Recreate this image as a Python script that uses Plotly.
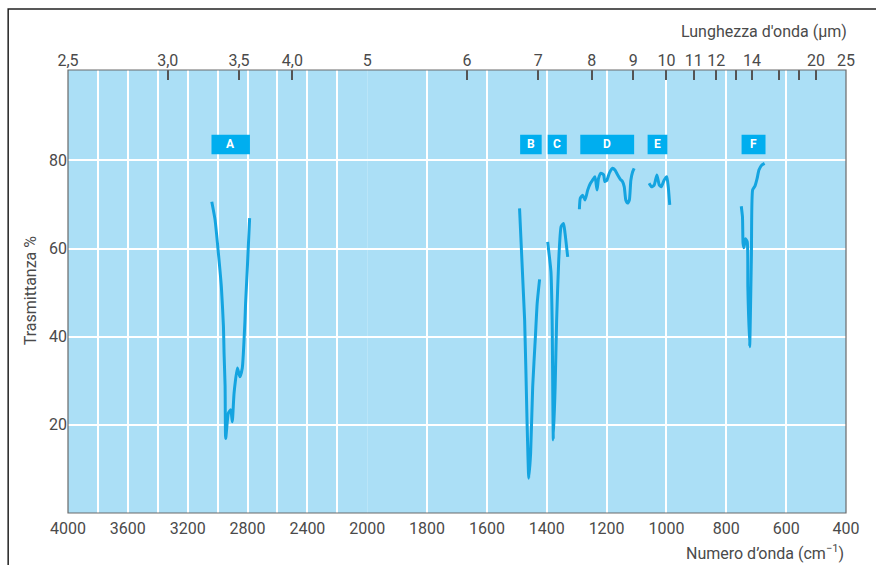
import plotly.graph_objects as go

# Infrared spectrum: transmittance (%) against wavenumber (cm^-1),
# with the scale halved above 2000 cm^-1 and a wavelength scale (µm) on top.

# Band A (C-H stretch region), drawn on the 4000-2000 cm^-1 panel
wn_A = [3039, 3017, 2995, 2975, 2961, 2957, 2950, 2946, 2928, 2912, 2902,
        2890, 2868, 2851, 2835, 2817, 2813, 2802, 2786]
T_A = [70.6, 66.5, 59.0, 51.3, 42.3, 36.3, 28.7, 16.9, 22.7, 23.4, 20.7,
       27.2, 32.9, 30.9, 32.9, 43.8, 47.6, 55.1, 66.9]

# Bands B-F, drawn on the 2000-400 cm^-1 panel
wn_B = [1491, 1474, 1466, 1460, 1454, 1447, 1438, 1432, 1424]
T_B = [69.1, 43.8, 21.1, 7.9, 13.5, 28.7, 40.0, 47.6, 53.0]

wn_C = [1397, 1386, 1382, 1378, 1372, 1367, 1360, 1352, 1344, 1339, 1330]
T_C = [61.5, 54.7, 43.8, 16.6, 28.7, 43.8, 57.4, 65.0, 65.7, 63.5, 58.1]

wn_D = [1291, 1288, 1280, 1272, 1263, 1254, 1247, 1239, 1232, 1227, 1219,
        1210, 1206, 1199, 1191, 1180, 1172, 1163, 1154, 1147, 1141, 1136,
        1130, 1124, 1119, 1113, 1108]
T_D = [68.9, 71.4, 72.1, 71.0, 73.3, 74.8, 75.5, 76.3, 73.3, 75.9, 77.1,
       76.7, 75.2, 75.5, 77.1, 78.2, 77.8, 76.7, 75.7, 75.2, 74.0, 71.0,
       70.3, 71.0, 75.5, 77.4, 78.2]

wn_E = [1058, 1050, 1041, 1032, 1024, 1017, 1008, 999, 994, 989]
T_E = [74.8, 74.0, 74.4, 76.7, 74.4, 74.0, 75.5, 76.3, 74.0, 69.9]

wn_F = [750, 746, 744, 741, 736, 730, 728, 722, 719, 716, 712, 704, 697,
        691, 682, 672]
T_F = [69.6, 67.2, 61.2, 60.2, 62.2, 61.5, 51.3, 37.7, 46.8, 58.9, 73.3,
       74.2, 75.9, 77.8, 78.9, 79.3]

# Band regions marked by labelled boxes: (label, start cm^-1, end cm^-1)
band_regions = [("A", 3041, 2784), ("B", 1489, 1417), ("C", 1397, 1333),
                ("D", 1288, 1108), ("E", 1063, 997), ("F", 749, 669)]

# Axis ticks
wn_ticks_high = [4000, 3800, 3600, 3400, 3200, 3000, 2800, 2600, 2400, 2200, 2000]
wn_ticks_low = [1800, 1600, 1400, 1200, 1000, 800, 600, 400]
wl_ticks_high = [2.5, 3.0, 3.5, 4.0, 5]
wl_text_high = ["2,5", "3,0", "3,5", "4,0", "5"]
wl_ticks_low = [6, 7, 8, 9, 10, 11, 12, 13, 14, 16, 18, 20, 25]
wl_text_low = ["6", "7", "8", "9", "10", "11", "12", "", "14", "", "", "20", "25"]
T_ticks = [20, 40, 60, 80]

FONT = "Roboto, Liberation Sans Narrow, sans-serif"
TXT = "#4a4a4a"
BG = "#abdff6"
LINE = "#14a4e0"
BOX = "#00aeef"

split = 300.0 / 780.0  # fraction of width for the 4000-2000 panel

fig = go.Figure()

line_style = dict(color=LINE, width=3, shape="spline", smoothing=0.5)
fig.add_trace(go.Scatter(x=wn_A, y=T_A, mode="lines", line=line_style,
                         xaxis="x", yaxis="y", showlegend=False, hoverinfo="skip"))
for wn, T in [(wn_B, T_B), (wn_C, T_C), (wn_D, T_D), (wn_E, T_E), (wn_F, T_F)]:
    fig.add_trace(go.Scatter(x=wn, y=T, mode="lines", line=line_style,
                             xaxis="x2", yaxis="y", showlegend=False,
                             hoverinfo="skip"))
# empty traces so the wavelength (top) axes get their own subplots
for ax in ("x3", "x4"):
    fig.add_trace(go.Scatter(x=[None], y=[None], mode="lines", xaxis=ax,
                             yaxis="y", showlegend=False, hoverinfo="skip"))

shapes = []
annotations = []
for label, x0, x1 in band_regions:
    xr = "x" if x0 > 2000 else "x2"
    shapes.append(dict(type="rect", xref=xr, yref="y", x0=x0, x1=x1,
                       y0=81.4, y1=85.8, fillcolor=BOX, line=dict(width=0),
                       layer="above"))
    annotations.append(dict(xref=xr, yref="y", x=(x0 + x1) / 2, y=83.6,
                            text="<b>%s</b>" % label, showarrow=False,
                            font=dict(family=FONT, size=12, color="white")))

# plot border
shapes.append(dict(type="rect", xref="paper", yref="paper", x0=0, x1=1,
                   y0=0, y1=1, line=dict(color="#6a6a6a", width=1.2),
                   layer="above"))
# outer page frame
shapes.append(dict(type="rect", xref="paper", yref="paper", x0=-0.0769,
                   x1=1.2, y0=-0.3, y1=1.1377,
                   line=dict(color="#222222", width=1.5), layer="above"))

annotations += [
    dict(xref="paper", yref="paper", x=-0.0487, y=0.503, xanchor="center",
         yanchor="middle", text="Trasmittanza %",
         textangle=-90, showarrow=False,
         font=dict(family=FONT, size=16, color=TXT)),
    dict(xref="paper", yref="paper", x=1.004, y=1.086, xanchor="right",
         yanchor="middle", text="Lunghezza d'onda (µm)", showarrow=False,
         font=dict(family=FONT, size=16, color=TXT)),
    dict(xref="paper", yref="paper", x=1.0, y=-0.09, xanchor="right",
         yanchor="middle", text="Numero d’onda (cm<sup>−1</sup>)",
         showarrow=False, font=dict(family=FONT, size=16, color=TXT)),
]

tickfont = dict(family=FONT, size=16, color=TXT)
grid = dict(showgrid=True, gridcolor="white", gridwidth=2, zeroline=False,
            showline=False, ticks="")

fig.update_layout(
    width=876, height=565,
    margin=dict(l=68, r=28, t=70, b=52),
    paper_bgcolor="white", plot_bgcolor=BG,
    xaxis=dict(domain=[0, split], range=[4000, 2000], anchor="y",
               tickmode="array", tickvals=wn_ticks_high,
               ticktext=[str(v) if v % 400 == 0 else "" for v in wn_ticks_high],
               tickfont=tickfont, ticklabelstandoff=4, **grid),
    xaxis2=dict(domain=[split, 1], range=[2000, 400], anchor="y",
                tickmode="array", tickvals=wn_ticks_low,
                ticktext=[str(v) for v in wn_ticks_low],
                tickfont=tickfont, ticklabelstandoff=4, **grid),
    xaxis3=dict(overlaying="x", side="top", anchor="y", range=[4000, 2000],
                tickmode="array", tickvals=[10000.0 / w for w in wl_ticks_high],
                ticktext=wl_text_high, ticks="inside", ticklen=10,
                tickwidth=1.5, tickcolor="#555555", showgrid=False,
                zeroline=False, showline=False, tickfont=tickfont),
    xaxis4=dict(overlaying="x2", side="top", anchor="y", range=[2000, 400],
                tickmode="array", tickvals=[10000.0 / w for w in wl_ticks_low],
                ticktext=wl_text_low, ticks="inside", ticklen=10,
                tickwidth=1.5, tickcolor="#555555", showgrid=False,
                zeroline=False, showline=False, tickfont=tickfont),
    yaxis=dict(range=[0, 100.5], anchor="x", tickmode="array",
               tickvals=T_ticks, tickfont=tickfont, **grid),
    shapes=shapes,
    annotations=annotations,
)

fig.write_html("out.html")
